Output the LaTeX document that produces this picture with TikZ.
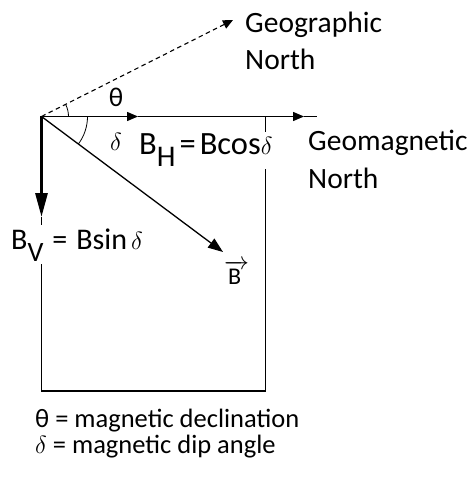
\documentclass[tikz,border=0pt]{standalone}
\usepackage{fontspec}
\setmainfont{Carlito}
\usetikzlibrary{arrows.meta}
\newcommand{\lowsub}[2]{\raisebox{-12pt}{\fontsize{#1}{#1}\selectfont #2}}

\begin{document}
\begin{tikzpicture}[x=1pt,y=-1pt,font=\fontsize{29.5}{37}\selectfont,vec/.style={line width=1.3pt,-{Triangle[length=11pt,width=9pt]}},bvec/.style={line width=1.3pt,-{Triangle[length=15pt,width=11pt]}},thickvec/.style={line width=3pt,-{Triangle[length=24pt,width=12pt]}},frame/.style={line width=1.2pt},north/.style={line width=1.1pt,dash pattern=on 4.5pt off 3.5pt,-{Triangle[length=10pt,width=9pt]}},lbl/.style={inner sep=0pt,anchor=base west}]
\useasboundingbox (0,0) rectangle (472,478);
\coordinate (O) at (41.5,116.5); \coordinate (hmid) at (138,116.5); \coordinate (hend) at (304,116.5); \coordinate (hfar) at (317,116.5);
\coordinate (vend) at (41.5,217); \coordinate (bl) at (41.5,391); \coordinate (br) at (265.5,391); \coordinate (tr) at (265.5,116.5);
\coordinate (gn) at (233,20); \coordinate (btip) at (223,252);
\draw[frame] (vend) -- (bl) -- (br) -- (tr);
\draw[vec] (O) -- (hmid); \draw[vec] (hmid) -- (hend); \draw[line width=1.3pt] (hend) -- (hfar);
\draw[thickvec] (O) -- (vend); \draw[bvec] (O) -- (btip); \draw[north] (O) -- (gn);
\draw[line width=0.8pt] ([xshift=27pt]O) arc[start angle=0,end angle=-26.7,radius=27];
\draw[line width=0.8pt] ([xshift=46pt]O) arc[start angle=0,end angle=36.7,radius=46];
\node[font=\fontsize{27}{30}\selectfont] (theta) at (116,97) {θ}; \node[font=\fontsize{29}{30}\selectfont] (delta) at (116,142) {$\delta$};
\node[lbl,fill=white,inner ysep=2pt,font=\fontsize{32.5}{36}\selectfont] (bh) at (139,155) {B\lowsub{30}{H}\kern4pt=\kern4pt Bcos$\delta$};
\node[lbl,fill=white,inner ysep=3pt,font=\fontsize{30}{36}\selectfont] (bv) at (11,249) {B\lowsub{28}{V}\kern9pt=\kern9pt Bsin\kern4pt$\delta$};
\node[lbl,font=\fontsize{24}{30}\selectfont] (bvec) at (224,284) {$\overrightarrow{\mbox{B\,}}$};
\node[lbl,align=left] (geo) at (245,70) {Geographic\\North};
\node[lbl,align=left] (mag) at (308,188) {Geomagnetic\\North};
\node[lbl,font=\fontsize{26.5}{30}\selectfont] (leg1) at (35,427) {θ = magnetic declination};
\node[lbl,font=\fontsize{26.5}{30}\selectfont] (leg2) at (35,453) {$\delta$ = magnetic dip angle};
\end{tikzpicture}
\end{document}
